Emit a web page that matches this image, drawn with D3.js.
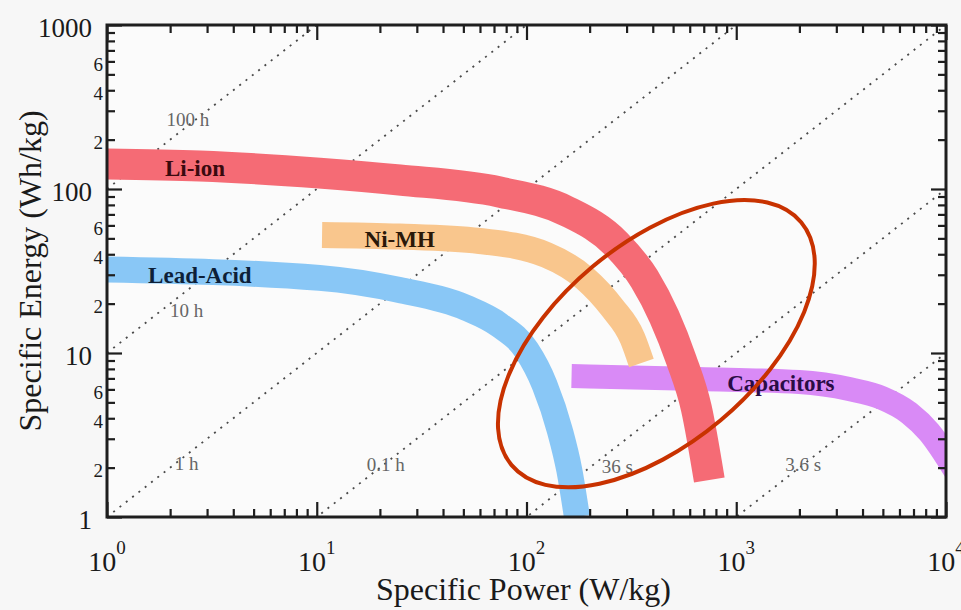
<!DOCTYPE html>
<html>
<head>
<meta charset="utf-8">
<script src="https://cdn.jsdelivr.net/npm/d3@7"></script>
<style>
  html, body { margin: 0; padding: 0; background: #f7f7f7; }
  svg { display: block; }
</style>
</head>
<body>
<svg id="chart" width="961" height="610"></svg>
<script>
// Ragone plot: specific energy against specific power for storage technologies

// Axis ticks
const powerTicks = [1, 10, 100, 1000, 10000];
const powerExponents = ["0", "1", "2", "3", "4"];
const energyTicks = [1, 10, 100, 1000];
const energyTickLabels = ["1", "10", "100", "1000"];
const energyMinorLabelled = [2, 4, 6, 20, 40, 60, 200, 400, 600];
const energyMinorLabels = ["2", "4", "6", "2", "4", "6", "2", "4", "6"];

// Constant discharge-time lines (E = P * t)
const dischargeHours = [100, 10, 1, 0.1, 0.01, 0.001];
const dischargeLabels = ["100 h", "10 h", "1 h", "0.1 h", "36 s", "3.6 s"];
const dischargeLabelPower = [2.43, 2.4, 2.4, 21.3, 271, 2084];
const dischargeLabelEnergy = [267, 18.3, 2.13, 2.10, 2.05, 2.1];

// Technology bands (centre line, W/kg and Wh/kg)
const liIonPower  = [1, 2.77, 10.3, 24.8, 74.3, 155, 268, 365, 454, 547, 645, 744];
const liIonEnergy = [142, 138, 125, 113.5, 95.9, 73.4, 46.2, 28.3, 16.6, 9.07, 4.62, 1.68];

const niMhPower  = [10.6, 24.8, 59.7, 124.5, 189, 257, 320, 353];
const niMhEnergy = [52.5, 51.3, 48.2, 39.6, 28.7, 18.8, 12.3, 8.69];

const leadAcidPower  = [1, 10.3, 24.8, 51.8, 74.3, 100, 122, 144, 160, 174];
const leadAcidEnergy = [32.3, 28.7, 24.2, 18.8, 14.8, 10.4, 6.38, 3.39, 1.93, 1.0];

const capacitorPower  = [164, 666, 1995, 3451, 4955, 6668, 8300, 11040];
const capacitorEnergy = [7.24, 6.94, 6.65, 6.03, 5.32, 4.31, 3.30, 1.93];

const technologyNames = ["Capacitors", "Lead-Acid", "Ni-MH", "Li-ion"];
const technologyLabelPower  = [906, 1.57, 16.9, 1.89];
const technologyLabelEnergy = [5.87, 26.7, 44.3, 120];

// Highlighted region (centre in data units)
const highlightPower = 416;
const highlightEnergy = 11.4;

// ---------------------------------------------------------------
const serif = "'Liberation Serif', 'Times New Roman', serif";
const bandStyle = {
  "Capacitors": { color: "#d98af6", width: 24, text: "#2a0c45" },
  "Lead-Acid":  { color: "#89c7f6", width: 26, text: "#0d1f38" },
  "Ni-MH":      { color: "#f9c68d", width: 26, text: "#2a1808" },
  "Li-ion":     { color: "#f56b75", width: 31, text: "#3a0a0e" }
};
const bandSeries = {
  "Capacitors": [capacitorPower, capacitorEnergy],
  "Lead-Acid":  [leadAcidPower, leadAcidEnergy],
  "Ni-MH":      [niMhPower, niMhEnergy],
  "Li-ion":     [liIonPower, liIonEnergy]
};

const svg = d3.select("#chart");
const plot = { left: 107, right: 946, top: 25, bottom: 517 };

const x = d3.scaleLog().domain([1, 10000]).range([plot.left, plot.right]);
const y = d3.scaleLog().domain([1, 1000]).range([plot.bottom, plot.top]);

svg.append("rect").attr("width", 961).attr("height", 610).attr("fill", "#f7f7f7");
svg.append("rect")
  .attr("x", plot.left).attr("y", plot.top)
  .attr("width", plot.right - plot.left).attr("height", plot.bottom - plot.top)
  .attr("fill", "#fbfbfb");

svg.append("clipPath").attr("id", "plotClip")
  .append("rect")
  .attr("x", plot.left).attr("y", plot.top)
  .attr("width", plot.right - plot.left).attr("height", plot.bottom - plot.top);

const inner = svg.append("g").attr("clip-path", "url(#plotClip)");

// Discharge-time lines
inner.append("g").selectAll("line")
  .data(dischargeHours)
  .join("line")
  .attr("x1", x(1)).attr("y1", h => y(h))
  .attr("x2", x(10000)).attr("y2", h => y(10000 * h))
  .attr("stroke", "#4a4a4a")
  .attr("stroke-width", 1.8)
  .attr("stroke-dasharray", "2 6");

inner.append("g").selectAll("text")
  .data(dischargeLabels)
  .join("text")
  .attr("x", (d, i) => x(dischargeLabelPower[i]))
  .attr("y", (d, i) => y(dischargeLabelEnergy[i]))
  .attr("dy", "0.35em")
  .attr("text-anchor", "middle")
  .attr("font-family", serif)
  .attr("font-size", 19)
  .attr("fill", "#666")
  .text(d => d);

// Technology bands
const bandLine = d3.line()
  .x(d => x(d[0]))
  .y(d => y(d[1]))
  .curve(d3.curveMonotoneX);

technologyNames.forEach(name => {
  const [p, e] = bandSeries[name];
  const pts = p.map((v, i) => [v, e[i]]);
  inner.append("path")
    .attr("d", bandLine(pts))
    .attr("fill", "none")
    .attr("stroke", bandStyle[name].color)
    .attr("stroke-width", bandStyle[name].width)
    .attr("stroke-linecap", "butt")
    .attr("stroke-linejoin", "round");
});

inner.append("g").selectAll("text")
  .data(technologyNames)
  .join("text")
  .attr("x", (d, i) => x(technologyLabelPower[i]))
  .attr("y", (d, i) => y(technologyLabelEnergy[i]))
  .attr("font-family", serif)
  .attr("font-weight", "bold")
  .attr("font-size", 23)
  .attr("fill", d => bandStyle[d].text)
  .text(d => d);

// Axes: ticks point inward on all four sides
const minorPower = [];
for (let dec = 1; dec < 10000; dec *= 10)
  for (let k = 2; k <= 9; k++) minorPower.push(k * dec);
const minorEnergy = [];
for (let dec = 1; dec < 1000; dec *= 10)
  for (let k = 2; k <= 9; k++) minorEnergy.push(k * dec);

function drawAxis(gen, scale, values, size, transform) {
  const g = svg.append("g")
    .attr("transform", transform)
    .call(gen(scale).tickValues(values).tickSize(-size).tickFormat(""));
  g.select(".domain").remove();
  g.selectAll(".tick line").attr("stroke", "#1e1e1e").attr("stroke-width", 2.2);
}
drawAxis(d3.axisBottom, x, powerTicks, 15, `translate(0,${plot.bottom})`);
drawAxis(d3.axisBottom, x, minorPower, 8, `translate(0,${plot.bottom})`);
drawAxis(d3.axisTop, x, powerTicks, 15, `translate(0,${plot.top})`);
drawAxis(d3.axisTop, x, minorPower, 8, `translate(0,${plot.top})`);
drawAxis(d3.axisLeft, y, energyTicks, 15, `translate(${plot.left},0)`);
drawAxis(d3.axisLeft, y, minorEnergy, 8, `translate(${plot.left},0)`);
drawAxis(d3.axisRight, y, energyTicks, 15, `translate(${plot.right},0)`);
drawAxis(d3.axisRight, y, minorEnergy, 8, `translate(${plot.right},0)`);

svg.append("rect")
  .attr("x", plot.left).attr("y", plot.top)
  .attr("width", plot.right - plot.left).attr("height", plot.bottom - plot.top)
  .attr("fill", "none")
  .attr("stroke", "#1e1e1e")
  .attr("stroke-width", 3);

// Tick labels
svg.append("g").selectAll("text")
  .data(energyTicks)
  .join("text")
  .attr("x", plot.left - 15)
  .attr("y", d => y(d) + 3)
  .attr("dy", "0.35em")
  .attr("text-anchor", "end")
  .attr("font-family", serif)
  .attr("font-size", 27)
  .attr("fill", "#1a1a1a")
  .text((d, i) => energyTickLabels[i]);

svg.append("g").selectAll("text")
  .data(energyMinorLabelled)
  .join("text")
  .attr("x", plot.left - 4)
  .attr("y", d => y(d) + 3)
  .attr("dy", "0.35em")
  .attr("text-anchor", "end")
  .attr("font-family", serif)
  .attr("font-size", 19)
  .attr("fill", "#1a1a1a")
  .text((d, i) => energyMinorLabels[i]);

const powerLabels = svg.append("g").selectAll("text")
  .data(powerTicks)
  .join("text")
  .attr("x", d => x(d))
  .attr("y", 571)
  .attr("text-anchor", "middle")
  .attr("font-family", serif)
  .attr("font-size", 28)
  .attr("fill", "#1a1a1a");
powerLabels.append("tspan").text("10");
powerLabels.append("tspan")
  .attr("dy", -17)
  .attr("font-size", 19)
  .text((d, i) => powerExponents[i]);

// Axis titles
svg.append("text")
  .attr("x", (plot.left + plot.right) / 2 - 3)
  .attr("y", 600)
  .attr("text-anchor", "middle")
  .attr("font-family", serif)
  .attr("font-size", 32)
  .attr("fill", "#1a1a1a")
  .text("Specific Power (W/kg)");

svg.append("text")
  .attr("transform", "translate(41,271) rotate(-90)")
  .attr("text-anchor", "middle")
  .attr("font-family", serif)
  .attr("font-size", 32)
  .attr("fill", "#1a1a1a")
  .text("Specific Energy (Wh/kg)");

// Highlight ellipse around the crossover region
svg.append("ellipse")
  .attr("transform", `translate(${x(highlightPower)},${y(highlightEnergy)}) rotate(-40)`)
  .attr("rx", 189)
  .attr("ry", 100)
  .attr("fill", "none")
  .attr("stroke", "#c83200")
  .attr("stroke-width", 4);
</script>
</body>
</html>
